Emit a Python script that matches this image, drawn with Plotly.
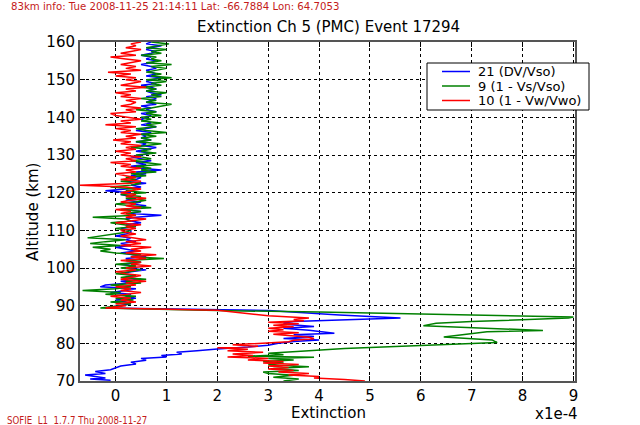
import numpy as np
import plotly.graph_objects as go

# ---------------- data ----------------
series_names = ["21 (DV/Vso)", "9 (1 - Vs/Vso)", "10 (1 - Vw/Vwo)"]
series_colors = ["#0000ff", "#008000", "#ff0000"]

x_ticks = [0, 1, 2, 3, 4, 5, 6, 7, 8, 9]
y_ticks = [70, 80, 90, 100, 110, 120, 130, 140, 150, 160]

# upper (noisy) region: altitude grid 90..160 km every 0.5 km
upper_alt = list(np.round(np.arange(90.0, 160.01, 0.5), 1))

blue_upper = [
    0.1, 0.3, 0.2, 0.0, 0.4, 0.2, 0.3, -0.1, 0.2, 0.4,
    -0.3, -0.2, 0.3, 0.1, 0.5, 0.2, 0.4, 0.1, 0.3, 0.6,
    0.2, 0.4, 0.1, 0.5, 0.3, 0.2, 0.6, 0.3, 0.1, 0.4,
    0.2, 0.0, 0.3, 0.1, 0.4, 0.2, 0.3, 0.0, 0.2, 0.3,
    0.3, 0.1, 0.4, 0.2, 0.5, 0.3, 0.2, 0.4, 0.9, 0.3,
    0.5, 0.2, 0.4, 0.6, 0.3, 0.5, 0.2, 0.4, 0.3, 0.1,
    0.3, -0.2, 0.2, 0.5, 0.3, 0.6, 0.2, 0.4, 0.5, 0.3,
    0.6, 0.4, 0.9, 0.5, 0.3, 0.6, 0.4, 0.7, 0.5, 0.3,
    0.5, 0.7, 0.4, 0.6, 0.8, 0.5, 0.6, 0.4, 0.7, 0.5,
    0.6, 0.5, 0.7, 0.4, 0.6, 0.8, 0.5, 0.7, 0.6, 0.5,
    0.6, 0.7, 0.5, 0.8, 0.6, 0.7, 0.5, 0.8, 0.6, 0.7,
    0.8, 0.6, 0.9, 0.7, 0.6, 0.8, 0.7, 0.5, 0.8, 0.6,
    0.7, 0.9, 0.6, 0.8, 0.7, 0.6, 0.8, 0.7, 0.5, 0.7,
    0.8, 0.6, 0.7, 0.5, 0.7, 0.8, 0.6, 0.7, 0.9, 0.6,
    0.7,
]
green_upper = [
    0.1, 0.3, -0.1, 0.35, 0.0, 0.4, -0.2, 0.1, -0.65, 0.0,
    0.3, -0.1, 0.5, 0.2, 0.6, 0.1, 0.4, 0.0, 0.3, 0.5,
    0.1, 0.4, 0.0, 0.5, 0.2, 0.95, 0.3, 0.5, 0.0, -0.3,
    -0.1, -0.45, 0.1, -0.5, -0.2, 0.2, -0.55, -0.3, 0.0, 0.2,
    0.3, 0.0, 0.4, 0.1, -0.1, 0.3, 0.2, -0.45, 0.4, 0.2,
    0.5, 0.1, 0.7, 0.3, 0.0, 0.4, 0.6, 0.2, 0.5, 0.1,
    0.6, 0.2, 0.4, -0.1, 0.3, 0.5, 0.1, 0.4, 0.2, 0.6,
    0.3, 0.8, 0.5, 0.7, 0.4, 0.9, 0.6, 0.3, 0.7, 0.5,
    0.4, 0.8, 0.5, 0.7, 0.3, 0.6, 0.9, 0.4, 0.7, 0.5,
    0.8, 0.5, 1.0, 0.6, 0.4, 0.8, 0.6, 0.9, 0.5, 0.7,
    0.5, 0.9, 0.6, 0.8, 0.4, 0.7, 0.9, 1.1, 0.6, 0.8,
    0.5, 0.9, 0.7, 1.0, 0.6, 0.8, 0.5, 0.9, 0.7, 1.0,
    0.6, 1.1, 0.7, 0.9, 0.6, 0.8, 1.0, 0.7, 1.1, 0.6,
    0.9, 0.7, 0.8, 0.5, 0.9, 0.7, 1.0, 0.6, 0.8, 1.05,
    0.7,
]
red_upper = [
    0.2, 0.0, 0.4, 0.1, 0.3, -0.1, 0.2, 0.5, 0.1, 0.3,
    0.0, 0.4, 0.2, 0.6, 0.1, 0.3, 0.5, 0.2, 0.0, 0.4,
    0.2, 0.7, 0.3, 0.5, 0.1, 0.6, 0.3, 0.8, 0.2, 0.5,
    0.3, 0.7, 0.1, 0.5, 0.2, 0.6, 0.3, 0.1, 0.4, 0.2,
    0.1, 0.4, 0.2, 0.5, 0.0, 0.3, 0.6, 0.2, 0.4, 0.1,
    0.3, 0.0, 0.5, 0.2, 0.4, 0.1, 0.3, 0.6, 0.2, 0.4,
    0.1, 0.3, 0.5, 0.2, -0.7, 0.3, 0.5, 0.1, 0.4, 0.2,
    0.0, 0.4, 0.2, 0.5, 0.1, 0.3, -0.1, 0.4, 0.2, 0.5,
    0.1, 0.3, 0.0, 0.4, 0.2, 0.5, 0.1, 0.3, -0.05, 0.4,
    0.2, 0.5, 0.1, 0.3, 0.0, 0.4, -0.2, 0.3, 0.1, 0.5,
    0.2, 0.0, -0.1, 0.4, 0.2, 0.5, 0.1, 0.3, 0.4, 0.2,
    0.5, 0.1, 0.3, 0.0, 0.4, 0.2, 0.6, 0.1, 0.3, 0.5,
    0.2, 0.4, 0.0, 0.3, -0.15, 0.5, 0.2, 0.4, 0.1, 0.3,
    0.5, 0.2, -0.1, 0.4, 0.1, 0.3, 0.5, 0.2, 0.4, 0.3,
    0.5,
]

# lower region (70..89.5 km), PMC layer
blue_lower_alt = [70.0, 70.2, 70.5, 70.8, 71.2, 71.6, 72.0, 72.5, 73.0, 73.5,
                  74.0, 74.5, 75.0, 75.5, 76.0, 76.4, 76.8, 77.2, 77.6, 78.0,
                  78.5, 79.0, 79.5, 80.0, 80.5, 80.9, 81.3, 81.8, 82.3, 82.7,
                  83.0, 83.5, 84.0, 84.5, 85.0, 85.4, 85.8, 86.7, 87.5, 88.7, 89.4]
blue_lower = [-0.2, -0.1, -0.5, -0.2, -0.4, -0.6, -0.2, -0.4, -0.1, 0.0,
              0.1, 0.4, 0.3, 0.6, 0.5, 1.0, 0.9, 1.3, 1.2, 1.6,
              2.0, 2.6, 3.0, 3.2, 3.5, 4.0, 3.3, 3.9, 3.5, 4.3,
              4.1, 3.8, 3.3, 3.9, 3.4, 3.3, 3.5, 5.6, 4.4, 3.0, -0.2]

green_lower_alt = [70.0, 70.5, 71.0, 71.5, 72.0, 72.4, 72.8, 73.3, 73.8, 74.3,
                   74.8, 75.2, 75.6, 76.0, 76.3, 76.6, 77.0, 77.4, 78.0, 78.6,
                   80.2, 80.9, 81.7, 83.1, 83.4, 84.5, 84.7, 85.3, 85.8, 86.7,
                   87.0, 88.3, 88.7, 89.4]
green_lower = [3.3, 3.6, 3.1, 3.5, 3.0, 2.9, 3.6, 3.1, 3.8, 3.0,
               3.3, 2.9, 3.5, 3.0, 3.9, 2.6, 3.3, 3.0, 3.8, 4.5,
               7.5, 7.4, 6.45, 7.3, 8.4, 6.5, 6.05, 6.3, 7.0, 8.9,
               9.0, 4.0, 2.0, -0.3]

red_lower_alt = [70.0, 70.4, 70.8, 71.2, 71.6, 72.0, 72.4, 72.8, 73.2, 73.6,
                 74.0, 74.4, 74.8, 75.2, 75.6, 76.0, 76.4, 76.8, 77.2, 77.6,
                 78.0, 78.4, 78.8, 79.2, 79.6, 80.0, 80.4, 80.8, 81.2, 81.6,
                 82.0, 82.4, 82.8, 83.2, 83.6, 84.0, 84.4, 84.8, 85.2, 85.6,
                 86.0, 86.3, 86.7, 87.3, 88.8, 89.4]
red_lower = [4.9, 4.5, 3.9, 4.0, 3.4, 3.8, 3.2, 3.5, 3.0, 3.4,
             3.0, 3.6, 2.9, 3.3, 2.6, 3.0, 2.2, 2.7, 2.3, 2.9,
             2.2, 2.6, 2.0, 2.8, 2.3, 2.9, 3.4, 3.5, 3.9, 3.8,
             3.4, 3.1, 3.6, 3.0, 3.3, 3.0, 3.5, 3.1, 3.6, 3.0,
             3.7, 3.5, 3.8, 3.0, 2.0, -0.2]

info_text = "83km info: Tue 2008-11-25 21:14:11 Lat: -66.7884 Lon: 64.7053"
footer_text = "SOFIE  L1  1.7.7 Thu 2008-11-27"
title_text = "Extinction Ch 5 (PMC) Event 17294"
scale_text = "x1e-4"

# ---------------- figure ----------------
FONT = "DejaVu Sans, Liberation Sans, sans-serif"
series = [
    (blue_lower_alt, blue_lower, blue_upper),
    (green_lower_alt, green_lower, green_upper),
    (red_lower_alt, red_lower, red_upper),
]

fig = go.Figure()
for (la, lv, uv), name, col in zip(series, series_names, series_colors):
    fig.add_trace(go.Scatter(
        x=lv + uv, y=la + upper_alt, mode="lines", name=name,
        line=dict(color=col, width=1.5),
    ))

W, H = 640, 425
L, R, T, B = 80, 65, 42, 44
fig.update_layout(
    width=W, height=H,
    margin=dict(l=L, r=R, t=T, b=B, pad=0),
    paper_bgcolor="white", plot_bgcolor="white",
    font=dict(family=FONT, color="black", size=15),
    showlegend=False,
)

axis_common = dict(
    showline=True, linecolor="#555", linewidth=2, mirror="allticks",
    ticks="inside", ticklen=5, tickcolor="black", tickwidth=1,
    showgrid=True, gridcolor="black", gridwidth=1, griddash="3px,3px",
    zeroline=False, tickfont=dict(size=15, family=FONT),
)
fig.update_xaxes(range=[-0.7, 9.03], tickvals=x_ticks,
                 ticktext=[str(v) for v in x_ticks], **axis_common)
fig.update_yaxes(range=[70, 160], tickvals=y_ticks,
                 ticktext=[str(v) for v in y_ticks], **axis_common)

pw, ph = W - L - R, H - T - B
def px(xp):
    return (xp - L) / pw
def py(yp):
    return (H - B - yp) / ph

annotations = [
    dict(text=title_text, x=px(328), y=py(27), font=dict(size=15)),
    dict(text="Extinction", x=px(328), y=py(413), font=dict(size=15)),
    dict(text=scale_text, x=px(556), y=py(414), font=dict(size=15)),
    dict(text="Altitude (km)", x=px(33), y=py(212), textangle=-90, font=dict(size=15)),
    dict(text=info_text, x=px(9), y=py(7), xanchor="left",
         font=dict(size=10.2, color="#c41a1a")),
    dict(text=footer_text, x=px(5), y=py(420), xanchor="left",
         font=dict(size=9.6, color="#c41a1a",
                   family="DejaVu Sans Condensed, Liberation Sans Narrow, Liberation Sans, sans-serif")),
]

# custom legend box (matplotlib style)
leg_x0, leg_x1, leg_y0, leg_y1 = 427, 589, 63, 110
fig.add_shape(type="rect", xref="paper", yref="paper",
              x0=px(leg_x0), x1=px(leg_x1), y0=py(leg_y1), y1=py(leg_y0),
              line=dict(color="black", width=1), fillcolor="white", layer="above")
for i, (name, col) in enumerate(zip(series_names, series_colors)):
    yy = 71.5 + 14.5 * i
    fig.add_shape(type="line", xref="paper", yref="paper",
                  x0=px(442), x1=px(470), y0=py(yy), y1=py(yy),
                  line=dict(color=col, width=1.5), layer="above")
    annotations.append(dict(text=name, x=px(476), y=py(yy), xanchor="left",
                            font=dict(size=13)))

for a in annotations:
    a.setdefault("xanchor", "center")
    fig.add_annotation(xref="paper", yref="paper", showarrow=False,
                       yanchor="middle", **a)

fig.write_html("out.html", config={"displayModeBar": False},
               post_script="document.body.style.margin='0';document.body.style.padding='0';")
